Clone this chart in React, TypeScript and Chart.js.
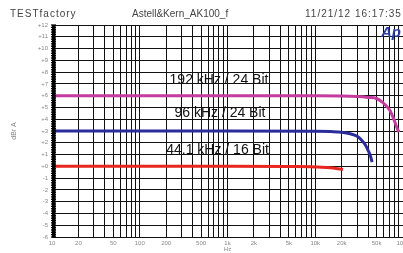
import React, { useEffect, useRef } from 'react';
import { Chart, registerables } from 'chart.js';

Chart.register(...registerables);

// ---- data ----
const freq192 = [10, 100, 1000, 10000, 20000, 30000, 40000, 50000, 58000, 65000, 71000, 78000, 85000, 90000];
const db192 = [6, 6, 6, 6, 5.97, 5.92, 5.85, 5.76, 5.45, 5.1, 4.75, 4.07, 3.3, 2.9];

const freq96 = [10, 100, 1000, 10000, 15000, 20000, 25000, 30000, 34000, 37000, 40000, 42500, 44400];
const db96 = [3, 3, 3, 2.98, 2.95, 2.9, 2.77, 2.55, 2.2, 1.85, 1.36, 0.9, 0.36];

const freq44 = [10, 100, 1000, 5000, 10000, 16000, 20700];
const db44 = [0, 0, 0, -0.02, -0.05, -0.14, -0.28];

const seriesNames = ['192 kHz / 24 Bit', '96 kHz / 24 Bit', '44.1 kHz / 16 Bit'];
const seriesColors = ['#c43c9e', '#2a2c9c', '#e8261e'];

const xGridValues = [
  10, 20, 30, 40, 50, 60, 70, 80, 90,
  100, 200, 300, 400, 500, 600, 700, 800, 900,
  1000, 2000, 3000, 4000, 5000, 6000, 7000, 8000, 9000,
  10000, 20000, 30000, 40000, 50000, 60000, 70000, 80000, 90000, 100000,
];
const xTickValues = [10, 20, 50, 100, 200, 500, 1000, 2000, 5000, 10000, 20000, 50000, 100000];
const xTickLabels = ['10', '20', '50', '100', '200', '500', '1k', '2k', '5k', '10k', '20k', '50k', '100k'];

const yTickValues = [12, 11, 10, 9, 8, 7, 6, 5, 4, 3, 2, 1, 0, -1, -2, -3, -4, -5, -6];
const yTickLabels = ['+12', '+11', '+10', '+9', '+8', '+7', '+6', '+5', '+4', '+3', '+2', '+1', '+0', '-1', '-2', '-3', '-4', '-5', '-6'];

// annotation anchors (frequency, dB) for the series captions
const captionFreq = [800, 820, 770];
const captionDb = [7.3, 4.5, 1.36];

const headerLeft = 'TESTfactory';
const headerCenter = 'Astell&Kern_AK100_f';
const headerRight = '11/21/12 16:17:35';

const FONT = '"Liberation Sans", Arial, sans-serif';

const toPoints = (f: number[], d: number[]) => f.map((x, i) => ({ x, y: d[i] }));

const decorPlugin = {
  id: 'decor',
  afterDraw(chart: any) {
    const ctx = chart.ctx as CanvasRenderingContext2D;
    const area = chart.chartArea;
    const xs = chart.scales.x;
    const ys = chart.scales.y;
    ctx.save();
    // left axis ladder
    ctx.fillStyle = '#000';
    ctx.fillRect(area.left, area.top, 3.5, area.bottom - area.top);
    ctx.strokeStyle = '#000';
    ctx.lineWidth = 1.3;
    for (let v = -6; v <= 12.001; v += 0.2) {
      const y = ys.getPixelForValue(v);
      ctx.beginPath();
      ctx.moveTo(area.left - 1, y);
      ctx.lineTo(area.left + 4, y);
      ctx.stroke();
    }
    // header
    ctx.fillStyle = '#444';
    ctx.textBaseline = 'middle';
    ctx.textAlign = 'left';
    ctx.font = `10px ${FONT}`;
    (ctx as any).letterSpacing = '1px';
    ctx.fillText(headerLeft, 10, 14);
    (ctx as any).letterSpacing = '0px';
    ctx.fillText(headerCenter, 132, 14);
    (ctx as any).letterSpacing = '1px';
    ctx.fillText(headerRight, 305, 14);
    (ctx as any).letterSpacing = '0px';
    // Ap logo
    ctx.fillStyle = '#2b3d9e';
    ctx.font = `italic bold 15px ${FONT}`;
    ctx.fillText('Ap', 381, 33);
    // captions
    ctx.fillStyle = '#111';
    ctx.font = `14px ${FONT}`;
    ctx.textAlign = 'center';
    seriesNames.forEach((name, i) => {
      ctx.fillText(name, xs.getPixelForValue(captionFreq[i]), ys.getPixelForValue(captionDb[i]));
    });
    ctx.restore();
  },
};

export default function App() {
  const ref = useRef<HTMLCanvasElement | null>(null);

  useEffect(() => {
    if (!ref.current) return;
    const chart = new Chart(ref.current, {
      type: 'line',
      data: {
        datasets: [
          { label: seriesNames[0], data: toPoints(freq192, db192), borderColor: seriesColors[0] },
          { label: seriesNames[1], data: toPoints(freq96, db96), borderColor: seriesColors[1] },
          { label: seriesNames[2], data: toPoints(freq44, db44), borderColor: seriesColors[2] },
        ].map((d) => ({
          ...d,
          borderWidth: 3,
          pointRadius: 0,
          fill: false,
          cubicInterpolationMode: 'monotone' as const,
        })),
      },
      options: {
        animation: false,
        responsive: false,
        devicePixelRatio: 1,
        layout: { padding: { top: 25, right: 0, left: 0, bottom: 0 } },
        plugins: { legend: { display: false }, tooltip: { enabled: false } },
        scales: {
          x: {
            type: 'logarithmic',
            min: 10,
            max: 100000,
            afterBuildTicks: (s: any) => {
              s.ticks = xGridValues.map((v) => ({ value: v }));
            },
            afterFit: (s: any) => {
              s.height = 16;
              s.paddingLeft = 0;
              s.paddingRight = 0;
            },
            grid: { color: '#111', lineWidth: 1, drawTicks: false },
            border: { display: false },
            ticks: {
              autoSkip: false,
              maxRotation: 0,
              padding: 3,
              color: '#888',
              font: { size: 6, family: FONT },
              callback: (v: any) => {
                const i = xTickValues.indexOf(Number(v));
                return i >= 0 ? xTickLabels[i] : '';
              },
            },
            title: { display: true, text: 'Hz', color: '#888', font: { size: 6, family: FONT }, padding: 0 },
          },
          y: {
            type: 'linear',
            min: -6,
            max: 12,
            afterBuildTicks: (s: any) => {
              s.ticks = yTickValues.map((v) => ({ value: v }));
            },
            afterFit: (s: any) => {
              s.width = 52;
            },
            grid: { color: '#111', lineWidth: 1, drawTicks: false },
            border: { display: false },
            ticks: {
              padding: 4,
              color: '#888',
              font: { size: 6, family: FONT },
              callback: (v: any) => {
                const i = yTickValues.indexOf(Number(v));
                return i >= 0 ? yTickLabels[i] : '';
              },
            },
            title: { display: true, text: 'dBr A', color: '#888', font: { size: 7, family: FONT }, padding: { top: 10, bottom: 0 } },
          },
        },
      },
      plugins: [decorPlugin],
    });
    return () => chart.destroy();
  }, []);

  return (
    <div style={{ position: 'fixed', left: 0, top: 0, width: 403, height: 253, background: '#fff' }}>
      <canvas ref={ref} width={403} height={253} style={{ width: 403, height: 253, display: 'block' }} />
    </div>
  );
}
